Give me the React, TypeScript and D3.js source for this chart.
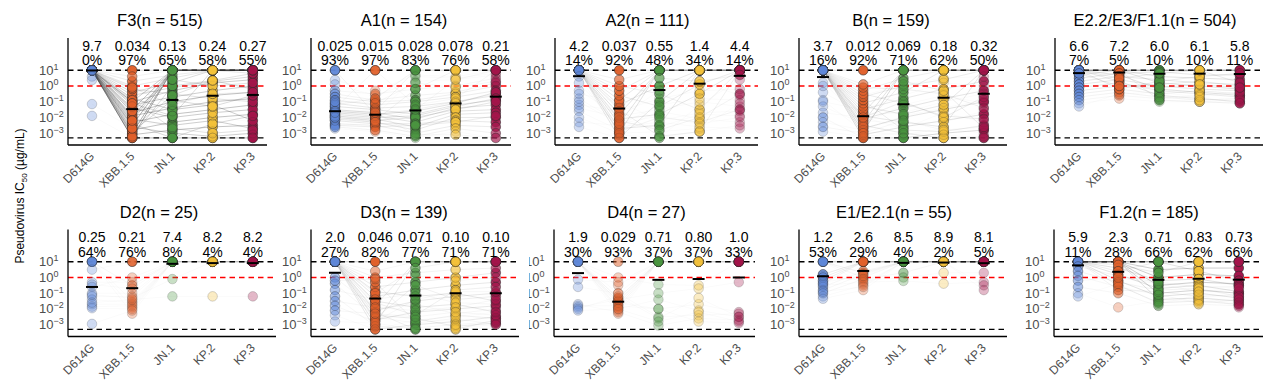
import React from "react";
import * as d3 from "d3";

// ---------------- DATA ----------------
const VARIANTS = ["D614G", "XBB.1.5", "JN.1", "KP.2", "KP.3"];
const VARIANT_COLORS = ["#5f87d8", "#e0602a", "#4a9440", "#f3c13a", "#a3154a"];
const Y_TICK_EXPONENTS = [1, 0, -1, -2, -3];
const UPPER_LIMIT = 10; // µg/mL
const LOWER_LIMIT = 0.0005; // µg/mL
const CUTOFF = 1; // µg/mL

const PANEL_TITLES = [
  "F3(n = 515)", "A1(n = 154)", "A2(n = 111)", "B(n = 159)", "E2.2/E3/F1.1(n = 504)",
  "D2(n = 25)", "D3(n = 139)", "D4(n = 27)", "E1/E2.1(n = 55)", "F1.2(n = 185)",
];
// geometric mean IC50 (µg/mL) per variant
const GEO_MEANS = [
  [9.7, 0.034, 0.13, 0.24, 0.27],
  [0.025, 0.015, 0.028, 0.078, 0.21],
  [4.2, 0.037, 0.55, 1.4, 4.4],
  [3.7, 0.012, 0.069, 0.18, 0.32],
  [6.6, 7.2, 6.0, 6.1, 5.8],
  [0.25, 0.21, 7.4, 8.2, 8.2],
  [2.0, 0.046, 0.071, 0.10, 0.10],
  [1.9, 0.029, 0.71, 0.80, 1.0],
  [1.2, 2.6, 8.5, 8.9, 8.1],
  [5.9, 2.3, 0.71, 0.83, 0.73],
];
// % neutralizing per variant
const PERCENTS = [
  [0, 97, 65, 58, 55],
  [93, 97, 83, 76, 58],
  [14, 92, 48, 34, 14],
  [16, 92, 71, 62, 50],
  [7, 5, 10, 10, 11],
  [64, 76, 8, 4, 4],
  [27, 82, 77, 71, 71],
  [30, 93, 37, 37, 33],
  [53, 29, 4, 2, 5],
  [11, 28, 66, 62, 66],
];

// Antibody groups: log10 IC50 for [D614G, XBB.1.5, JN.1, KP.2, KP.3], then number of antibodies
const F3_LOG_IC50 = [
  [1, -3.3, 1, 1, 1, 40], [1, -3.0, 1, 1, 1, 30], [1, -2.5, 1, 1, 1, 30], [1, -2.0, 1, 1, 1, 25],
  [1, -1.5, 1, 1, 1, 20], [1, -1.0, 1, 1, 1, 15], [1, 1, 1, 1, 1, 10],
  [1, -3.3, -3.3, -3.3, -3.3, 25], [1, -3.1, -2.8, -2.6, -2.5, 20], [1, -2.8, -2.3, -2.0, -1.8, 20],
  [1, -2.6, -3.0, -3.2, -3.0, 15], [1, -2.3, -1.8, -1.5, -1.2, 20], [1, -2.1, -2.5, -2.2, -2.7, 15],
  [1, -1.9, -1.4, -1.0, -0.8, 20], [1, -1.7, -1.0, -0.6, -0.4, 20], [1, -1.4, -2.0, -1.7, -1.5, 15],
  [1, -1.2, -0.7, -0.3, 0.0, 15], [1, -1.0, -0.3, 0.2, 0.4, 15], [1, -0.8, -1.5, -1.2, -2.2, 15],
  [1, -0.6, -0.1, 0.3, 0.6, 10], [1, -0.4, 0.2, 1, 1, 10], [1, -0.2, -0.5, -0.8, -1.0, 8],
  [1, 0.0, 0.5, 1, 0.8, 6], [1, 0.3, 0.7, 1, 1, 5], [1, 0.6, 1, 1, 1, 3],
  [1, -2.9, -0.9, -1.3, -0.6, 10], [1, -3.2, 0.0, 0.35, -0.2, 10], [1, -2.4, -3.3, -2.4, -1.9, 10],
  [1, -1.6, 0.4, 0.0, 0.2, 8], [1, -0.9, -2.7, -3.0, -2.8, 8], [1, -0.1, -1.2, -0.5, -0.4, 5],
  [1, -2.7, -0.6, 0.35, 0.8, 8], [1, -2.2, 1, 1, 1, 12], [1, -1.1, -1.9, 1, 1, 10],
  [0.6, -2.2, -2.6, -2.9, -3.1, 1], [0.38, -1.3, -1.6, -1.9, -2.3, 1],
  [-1.15, -2.7, -3.2, -3.3, -3.3, 1], [-1.9, -3.3, -3.3, -3.3, -3.3, 1],
];
const A1_LOG_IC50 = [
  [1, 1, 1, 1, 1, 6], [1, -1.8, -1.5, -1.0, -0.5, 3], [0.38, -0.3, 0.7, 0.6, 1, 1],
  [0.1, -0.6, 0.3, 0.4, 0.7, 1], [-0.3, -0.5, -0.2, 0.0, 0.5, 2], [-0.5, -0.9, -0.6, -0.4, 0.2, 3],
  [-0.7, -1.0, -0.9, -0.5, 0.0, 4], [-0.9, -1.2, -1.0, -0.7, -0.3, 5], [-1.1, -1.4, -1.3, -1.0, -0.6, 6],
  [-1.3, -1.5, -1.8, -1.2, -0.9, 7], [-1.5, -1.7, -2.1, -1.4, -1.2, 8], [-1.6, -1.8, -1.6, -1.1, -0.4, 8],
  [-1.7, -1.9, -2.3, -1.6, -1.5, 8], [-1.8, -2.0, -1.9, -1.3, -0.8, 8], [-1.9, -2.1, -2.6, -1.8, -1.7, 7],
  [-2.0, -2.2, -2.0, -1.5, -1.0, 7], [-2.1, -2.3, -2.8, -2.0, -2.0, 6], [-2.2, -2.4, -2.4, -2.2, -2.3, 6],
  [-2.4, -2.5, -3.0, -2.5, -2.6, 5], [-2.5, -2.6, -2.5, -2.3, -1.9, 5], [-2.6, -2.8, -3.2, -2.7, -3.0, 3],
  [-2.7, -2.9, -3.3, -2.9, -3.3, 1], [-1.4, 1, -1.2, -0.8, 1, 2], [-1.2, -0.8, 1, 1, 1, 3],
  [-1.6, -1.6, 1, 1, 1, 3], [-1.9, -2.2, -0.2, 1, 1, 3], [-2.2, -1.9, 0.6, 0.5, 0.8, 1],
  [-1.0, -1.1, 0.2, -0.1, 0.3, 2], [-2.0, -2.3, -1.5, 0.4, 1, 2], [-1.7, -1.7, -3.1, -3.1, -3.3, 2],
];
const A2_LOG_IC50 = [
  [1, -3.3, -1.0, 1, 1, 6], [1, -3.0, 1, 1, 1, 8], [1, -2.7, -2.5, 1, 1, 6], [1, -2.4, 1, 1, 1, 8],
  [1, -2.1, -1.8, -0.5, 1, 6], [1, -1.8, 1, 1, 1, 8], [1, -1.5, -3.2, -2.9, 1, 4], [1, -1.2, 0.0, 1, 1, 6],
  [1, -0.9, 1, 1, 1, 6], [1, -0.6, -1.3, 0.1, 1, 5], [1, -0.3, 1, 1, 1, 5], [1, 0.0, -0.5, -1.5, 1, 4],
  [1, 0.4, 1, 1, 1, 3], [1, 1, 1, 1, 1, 9], [1, -2.9, -2.0, -2.3, -1.5, 3], [1, -2.2, -2.8, -2.0, -0.5, 3],
  [1, -1.4, 0.5, 0.3, 0.7, 3], [0.6, -3.1, -3.3, -1.2, 0.4, 1], [0.2, -2.6, -2.3, -2.6, -2.7, 1],
  [-0.3, -1.9, -1.5, -1.0, -1.3, 1], [-0.8, -2.3, -2.6, -1.8, -1.9, 1], [-1.2, -1.6, -0.8, -0.3, -0.2, 1],
  [-1.6, -2.8, -1.6, -2.1, -2.3, 1], [-2.0, -3.0, -2.9, -2.7, -1.1, 1], [-2.3, -2.5, -1.2, -0.8, -0.9, 1],
  [-2.6, -3.3, -3.3, -2.9, -2.5, 1], [-1.4, -2.0, -0.3, 0.3, -0.6, 1], [-0.5, -1.0, -2.2, -1.7, -1.6, 1],
  [-1.0, -2.4, -1.9, -2.4, -2.0, 1],
];
const B_LOG_IC50 = [
  [1, -3.3, -3.3, -3.0, -2.8, 10], [1, -3.1, -2.6, -2.2, -1.8, 8], [1, -2.9, 1, 1, 1, 10],
  [1, -2.7, -2.0, -1.5, -1.0, 8], [1, -2.5, -3.0, -3.3, -3.3, 6], [1, -2.3, 1, 1, 1, 8],
  [1, -2.1, -1.4, -0.8, -0.3, 7], [1, -1.9, -2.3, -2.6, 1, 6], [1, -1.7, 1, 1, 1, 7],
  [1, -1.5, -0.8, -0.2, 0.3, 6], [1, -1.3, -1.8, -1.2, 1, 6], [1, -1.1, -0.4, 1, 1, 6],
  [1, -0.9, -2.8, -2.9, -2.5, 5], [1, -0.7, 0.0, 0.4, 1, 5], [1, -0.5, -1.1, -1.9, -2.1, 5],
  [1, -0.3, 0.5, 1, 1, 4], [1, -0.1, -0.2, -0.5, -1.4, 4], [1, 0.1, 1, 1, 1, 3],
  [1, -2.0, -1.0, -2.0, -0.7, 5], [1, 1, 1, 1, 1, 10], [1, -2.6, 0.3, -0.3, -2.7, 5],
  [0.2, -2.2, -2.4, -2.3, -1.6, 1], [-0.4, -1.8, -1.7, -1.0, -0.5, 1], [-0.9, -2.9, -3.1, -2.7, -3.0, 1],
  [-1.3, -2.4, -1.2, -0.6, -1.1, 1], [-1.7, -2.0, -2.7, -1.7, -2.3, 1], [-2.0, -3.3, -3.3, -3.3, -3.2, 2],
  [-2.3, -2.8, -1.9, -1.4, -0.9, 1], [-2.6, -3.0, -2.2, -2.8, -2.6, 2], [-2.9, -3.2, -3.0, -3.1, -3.3, 1],
  [-1.0, -1.5, -0.6, 0.2, 0.0, 1], [0.0, -0.6, 0.1, 0.5, 0.6, 1],
];
const E22_LOG_IC50 = [
  [1, 1, 1, 1, 1, 300], [1, 1, 0.6, 0.5, 0.4, 8], [1, 1, 0.2, 0.0, -0.2, 8], [1, 0.7, -0.2, -0.4, -0.6, 8],
  [1, 0.3, -0.6, -0.8, -1.0, 6], [1, 1, -0.9, -1.0, -1.1, 4], [0.7, 1, 1, 1, 1, 6],
  [0.5, 0.8, 0.9, 0.7, 0.7, 6], [0.3, 0.6, 0.4, 0.2, 0.1, 6], [0.1, 0.4, 0.0, -0.2, -0.3, 6],
  [-0.1, 0.2, -0.3, -0.5, -0.7, 5], [-0.3, 0.0, 0.1, 0.3, 0.0, 5], [-0.5, -0.2, -0.5, -0.3, -0.5, 4],
  [-0.7, -0.4, -0.7, -0.9, -0.8, 3], [-0.9, -0.6, -0.8, -0.6, -0.4, 2], [-1.1, -0.8, -1.0, -1.0, -0.9, 1],
  [-1.3, -0.5, -0.4, -0.7, -1.1, 1], [1, -0.2, 0.3, 0.6, 0.8, 5], [1, 0.5, 0.8, 1, 0.2, 5],
  [0.8, 0.0, -0.1, 0.1, -0.1, 5],
];
const D2_LOG_IC50 = [
  [1, 1, 1, 1, 1, 5], [1, -0.5, 1, 1, 1, 2], [1, -1.5, 1, 1, 1, 1], [1, -1.9, 1, 1, 1, 1],
  [1, -2.3, 1, 1, 1, 1], [0.5, 1, 1, 1, 1, 1], [-0.3, -0.3, 1, 1, 1, 1], [-0.45, -0.7, 1, 1, 1, 1],
  [-0.6, 0.0, 1, 1, 1, 1], [-1.0, -1.0, 1, 1, 1, 1], [-1.2, -1.2, 1, 1, 1, 1], [-1.4, -1.6, 1, 1, 1, 1],
  [-1.7, -1.7, 1, 1, 1, 1], [-1.85, -1.8, 1, 1, 1, 1], [-1.95, -2.0, 1, 1, 1, 1], [-2.95, -2.1, 1, 1, 1, 1],
  [-1.1, -1.3, -0.1, 1, 1, 1], [-1.6, -1.4, -1.2, -1.2, -1.2, 1],
];
const D3_LOG_IC50 = [
  [1, 1, 1, 1, 1, 15], [1, -3.3, -3.0, -2.8, -2.5, 6], [1, -3.0, 1, 1, 1, 6], [1, -2.7, -2.2, -2.0, -1.8, 6],
  [1, -2.4, -2.6, -3.1, -2.9, 5], [1, -2.1, -1.5, -1.2, -1.0, 6], [1, -1.8, 1, 1, 1, 5],
  [1, -1.5, -1.9, -1.7, -2.2, 6], [1, -1.2, -0.8, -0.5, -0.3, 6], [1, -0.9, -1.2, -1.0, -1.5, 6],
  [1, -0.6, -0.3, 0.0, 0.3, 5], [1, -0.3, -2.8, -2.4, -2.6, 4], [1, 0.0, 0.3, 0.5, 0.6, 3],
  [1, 0.4, 1, 1, 1, 2], [1, -2.2, -3.3, -3.3, -2.7, 4], [1, -1.0, 0.6, 1, 1, 3],
  [1, -2.6, -0.5, -1.4, -1.2, 4], [1, -1.6, -2.4, -0.8, -0.6, 4], [0.0, -2.0, -1.7, -2.3, -2.0, 2],
  [-0.4, -2.5, -2.9, -2.6, -3.0, 2], [-0.8, -1.4, -1.0, -1.6, -1.7, 2], [-1.2, -3.1, -3.2, -3.0, -2.8, 2],
  [-1.5, -1.9, -2.1, -1.9, -1.4, 2], [-1.8, -2.8, -1.4, -0.9, -0.9, 2], [-2.1, -2.3, -2.5, -2.2, -2.4, 2],
  [-2.4, -3.3, -2.7, -2.5, -2.2, 1], [-2.8, -2.9, -3.3, -3.2, -3.0, 1], [-0.2, -0.1, 0.1, -0.2, 0.0, 2],
];
const D4_LOG_IC50 = [
  [1, 1, 1, 1, 1, 2], [1, -1.3, 1, 1, 1, 3], [1, -1.5, 1, 1, 1, 3], [1, -1.7, 1, 1, 1, 2],
  [1, -1.9, 1, 1, 1, 2], [1, -2.1, 1, 1, 1, 1], [1, -2.3, 1, 1, 1, 1], [1, -1.0, 1, 1, 1, 1],
  [1, -0.5, 1, 1, 1, 1], [1, 0.0, -0.45, -0.5, 1, 1], [1, -1.6, -2.0, -1.7, -2.2, 1],
  [1, -2.0, -1.4, -2.1, -2.5, 1], [-0.13, -0.3, 1, 1, 1, 1], [-0.6, -1.0, -2.5, -2.4, -2.3, 1],
  [-1.7, -2.2, -3.05, -2.6, -2.7, 1], [-1.8, -1.8, -2.0, -2.8, -2.9, 1], [-1.9, -1.4, -1.0, -0.7, -0.3, 1],
  [-2.0, -1.2, -2.6, -1.3, -2.5, 1], [-2.1, -2.0, -2.8, -2.2, -2.8, 1],
];
const E1_LOG_IC50 = [
  [1, 1, 1, 1, 1, 20], [1, 0.3, 1, 1, 1, 3], [1, 0.0, 1, 1, 1, 2], [1, -0.4, 1, 1, 1, 1],
  [0.2, 1, 1, 1, 1, 5], [0.0, 1, 1, 1, 1, 4], [-0.2, 1, 1, 1, 1, 4], [-0.4, 1, 1, 1, 1, 3],
  [-0.6, 0.4, 1, 1, 1, 2], [-0.8, 0.2, 1, 1, 1, 2], [-1.0, -0.1, 0.3, 1, 1, 2], [-1.2, -0.5, 1, 1, 1, 1],
  [-1.35, -0.8, 1, 1, 1, 1], [0.1, -0.2, 0.0, 0.3, 0.3, 1], [-0.5, -0.3, -0.22, -0.39, -0.3, 1],
  [-0.3, 0.1, 1, 1, -0.5, 1], [-0.9, -0.6, 1, 1, -0.8, 1],
];
const F12_LOG_IC50 = [
  [1, 1, 1, 1, 1, 50], [1, 1, 0.5, 0.6, 0.6, 15], [1, 1, 0.0, 0.2, 0.1, 15], [1, 1, -0.5, -0.3, -0.4, 15],
  [1, 1, -1.0, -0.8, -1.0, 12], [1, 1, -1.4, -1.3, -1.5, 8], [1, 1, 1, 0.4, -0.2, 8],
  [1, 0.6, -0.2, -0.1, -0.5, 8], [1, 0.2, -0.7, -0.5, -0.9, 8], [1, -0.2, -1.2, -1.0, -1.3, 8],
  [1, -0.5, -1.6, -1.5, -1.7, 5], [1, -0.8, -0.9, -1.2, -1.1, 3], [1, 0.8, 0.3, 1, 1, 5],
  [1, 0.4, 1, 1, 1, 5], [0.7, 0.1, -0.3, -0.6, -0.6, 3], [0.4, -0.3, -0.8, -0.7, -1.2, 3],
  [0.1, -0.6, -1.1, -1.6, -1.4, 2], [-0.2, 0.0, -0.4, -0.9, -0.7, 2], [-0.6, -1.0, -1.8, -1.7, -1.8, 2],
  [-1.0, -1.9, -1.5, -1.4, -1.6, 1], [-1.2, -0.4, -1.7, -1.1, -1.9, 1],
];
const PANEL_DATA = [
  F3_LOG_IC50, A1_LOG_IC50, A2_LOG_IC50, B_LOG_IC50, E22_LOG_IC50,
  D2_LOG_IC50, D3_LOG_IC50, D4_LOG_IC50, E1_LOG_IC50, F12_LOG_IC50,
];

// ---------------- LAYOUT ----------------
const W = 1268;
const H = 392;
const FONT = "'Liberation Sans', Arial, Helvetica, sans-serif";
const PANEL_X0 = [68, 311, 555, 799, 1055, 68, 311, 554, 799, 1054];
const PANEL_X1 = [267, 511, 758, 1007, 1263, 276, 519, 755, 1007, 1263];
const PANEL_CLIP_LEFT = [0, 0, 0, 0, 0, 0, 0, 529, 0, 0];
const TITLE_DX = [92, 93, 92.5, 92, 100, 91, 93, 92.5, 95, 95];
const ROW_TOP = [38, 229.5];
const PLOT_H = 107;
const FIRST_DX = 24;
const STEP = 40.2;
const R = 4.8;

const fmt = d3.format(".2r");

function Panel({ idx }: { idx: number }) {
  const row = idx < 5 ? 0 : 1;
  const top = ROW_TOP[row];
  const bottom = top + PLOT_H;
  const x0 = PANEL_X0[idx];
  const x1 = PANEL_X1[idx];
  const y = d3.scaleLog().domain([Math.pow(10, -3.75), Math.pow(10, 3.05)]).range([bottom, top]);
  const x = d3.scalePoint<string>().domain(VARIANTS).range([x0 + FIRST_DX, x0 + FIRST_DX + STEP * 4]);
  const rows = PANEL_DATA[idx];
  const line = d3
    .line<[string, number]>()
    .x((d) => x(d[0]) as number)
    .y((d) => y(Math.pow(10, d[1])));
  const clipId = `clip${idx}`;
  const clipLeft = PANEL_CLIP_LEFT[idx];

  return (
    <g>
      {clipLeft > 0 && (
        <defs>
          <clipPath id={clipId}>
            <rect x={clipLeft} y={0} width={W} height={H} />
          </clipPath>
        </defs>
      )}
      <g clipPath={clipLeft > 0 ? `url(#${clipId})` : undefined}>
        {/* reference lines */}
        {[UPPER_LIMIT, LOWER_LIMIT].map((v) => (
          <line key={v} x1={x0} x2={x1} y1={y(v)} y2={y(v)} stroke="#000" strokeWidth={1.3} strokeDasharray="5.5,4" />
        ))}
        <line x1={x0} x2={x1} y1={y(CUTOFF)} y2={y(CUTOFF)} stroke="#ff0000" strokeWidth={1.4} strokeDasharray="5.5,4" />
        {/* antibody lines */}
        {rows.map((r, j) => {
          const w = r[5];
          const op = 1 - Math.pow(0.96, w);
          const pts = VARIANTS.map((v, k) => [v, r[k]] as [string, number]);
          return <path key={j} d={line(pts) || ""} fill="none" stroke="#3a3a3a" strokeWidth={0.55} strokeOpacity={op} />;
        })}
        {/* points */}
        {VARIANTS.map((v, k) => (
          <g key={v}>
            {rows.map((r, j) => {
              const op = 1 - Math.pow(0.7, r[5]);
              return (
                <circle
                  key={j}
                  cx={x(v)}
                  cy={y(Math.pow(10, r[k]))}
                  r={R}
                  fill={VARIANT_COLORS[k]}
                  fillOpacity={op}
                  stroke="#2a2a2a"
                  strokeWidth={0.7}
                  strokeOpacity={op * 0.9}
                />
              );
            })}
          </g>
        ))}
        {/* geometric mean bars */}
        {VARIANTS.map((v, k) => (
          <line
            key={v}
            x1={(x(v) as number) - 6}
            x2={(x(v) as number) + 6}
            y1={y(GEO_MEANS[idx][k])}
            y2={y(GEO_MEANS[idx][k])}
            stroke="#000"
            strokeWidth={2}
          />
        ))}
        {/* stats text */}
        {VARIANTS.map((v, k) => (
          <g key={v} fontFamily={FONT} fontSize={14} textAnchor="middle" fill="#000">
            <text x={x(v)} y={top + 12.5}>{fmt(GEO_MEANS[idx][k])}</text>
            <text x={x(v)} y={top + 27}>{PERCENTS[idx][k] + "%"}</text>
          </g>
        ))}
        {/* axes */}
        <line x1={x0} x2={x0} y1={top} y2={bottom} stroke="#000" strokeWidth={1.3} />
        <line x1={x0} x2={x1} y1={bottom} y2={bottom} stroke="#000" strokeWidth={1.3} />
        {Y_TICK_EXPONENTS.map((e) => (
          <text key={e} x={x0 - 29} y={y(Math.pow(10, e)) + 4.5} fontFamily={FONT} fontSize={13} fill="#4d4d4d">
            <tspan>10</tspan>
            <tspan dy={-5} fontSize={9}>{e < 0 ? "\u2212" + Math.abs(e) : String(e)}</tspan>
          </text>
        ))}
        {VARIANTS.map((v) => {
          const ax = (x(v) as number) + 3;
          const ay = bottom + 12;
          return (
            <text
              key={v}
              x={ax}
              y={ay}
              transform={`rotate(-45 ${ax} ${ay})`}
              textAnchor="end"
              fontFamily={FONT}
              fontSize={12}
              fill="#4d4d4d"
            >
              {v}
            </text>
          );
        })}
        {/* title */}
        <text x={x0 + TITLE_DX[idx]} y={top - 12} textAnchor="middle" fontFamily={FONT} fontSize={16.5} fill="#000">
          {PANEL_TITLES[idx]}
        </text>
      </g>
    </g>
  );
}

export default function App() {
  return (
    <svg
      width={W}
      height={H}
      viewBox={`0 0 ${W} ${H}`}
      style={{ position: "absolute", left: 0, top: 0, background: "#fff" }}
    >
      <rect x={0} y={0} width={W} height={H} fill="#fff" />
      {PANEL_TITLES.map((_, i) => (
        <Panel key={i} idx={i} />
      ))}
      <text
        transform="translate(24,196) rotate(-90)"
        textAnchor="middle"
        fontFamily={FONT}
        fontSize={12}
        fill="#000"
      >
        <tspan>Pseudovirus IC</tspan>
        <tspan fontSize={8} dy={3}>50</tspan>
        <tspan dy={-3}> (µg/mL)</tspan>
      </text>
    </svg>
  );
}
